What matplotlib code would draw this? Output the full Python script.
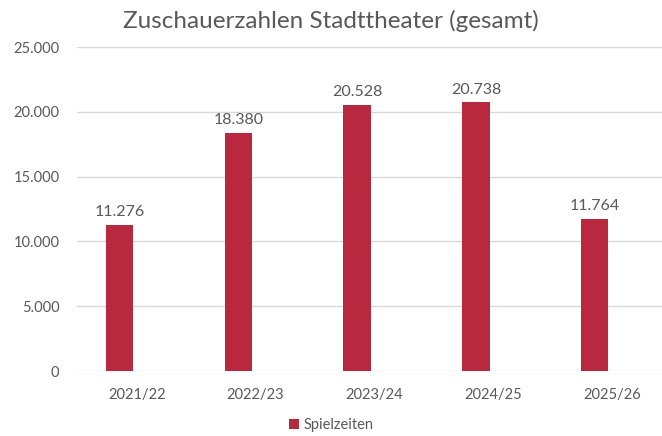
import matplotlib
matplotlib.use('Agg')
import matplotlib.pyplot as plt
import numpy as np

# data
seasons = ['2021/22', '2022/23', '2023/24', '2024/25', '2025/26']
visitors = [11276, 18380, 20528, 20738, 11764]
y_ticks = [0, 5000, 10000, 15000, 20000, 25000]

bar_color = '#B8283F'
text_color = '#595959'
grid_color = '#D9D9D9'

plt.rcParams['font.family'] = ['Lato', 'DejaVu Sans']

fig = plt.figure(figsize=(6.62, 4.36), dpi=100)
ax = fig.add_axes([0.117, 0.149, 0.897, 0.743])

x = np.arange(len(seasons))
bars = ax.bar(x - 0.145, visitors, width=0.23, color=bar_color, label='Spielzeiten', zorder=3)

def fmt(v):
    return f'{v:,}'.replace(',', '.')

for b, v in zip(bars, visitors):
    ax.annotate(fmt(v), (b.get_x() + b.get_width() / 2, v), xytext=(0, 4),
                textcoords='offset points', ha='center', va='bottom',
                fontsize=11.5, color=text_color)

ax.set_xlim(-0.5, len(seasons) - 0.5)
ax.set_ylim(0, 25000)
ax.set_yticks(y_ticks)
ax.set_yticklabels([fmt(t) for t in y_ticks])
ax.set_xticks(x)
ax.set_xticklabels(seasons)
ax.tick_params(axis='both', length=0, labelsize=10.5, colors=text_color)
ax.tick_params(axis='y', pad=13)
ax.tick_params(axis='x', pad=12)
ax.yaxis.grid(True, color=grid_color, linewidth=1, zorder=0)
for s in ax.spines.values():
    s.set_visible(False)

fig.suptitle('Zuschauerzahlen Stadttheater (gesamt)', x=0.5, y=0.978,
             fontsize=17.5, color=text_color)

fig.legend(loc='lower center', bbox_to_anchor=(0.5, -0.022), frameon=False,
           fontsize=10.5, labelcolor=text_color, handlelength=0.7,
           handleheight=0.7, handletextpad=0.3)

fig.savefig('out.png', dpi=100)
